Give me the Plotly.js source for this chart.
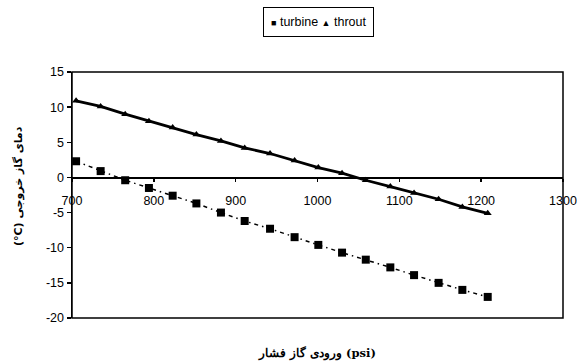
<!DOCTYPE html>
<html>
<head>
<meta charset="utf-8">
<script src="https://cdn.plot.ly/plotly-3.0.1.min.js"></script>
<style>html,body{margin:0;padding:0;background:#fff;}#chart{width:577px;height:364px;}</style>
</head>
<body>
<div id="chart"></div>
<script>
// ---- data ----
const pressure = [705, 735, 765, 794, 823, 852, 882, 911, 942, 972, 1001, 1030, 1059, 1089, 1118, 1148, 1177, 1208];
const turbine = [2.3, 0.9, -0.4, -1.5, -2.6, -3.7, -5.0, -6.2, -7.3, -8.5, -9.6, -10.7, -11.7, -12.8, -13.9, -15.0, -16.0, -17.0];
const throut = [10.9, 10.1, 9.0, 8.0, 7.1, 6.1, 5.2, 4.2, 3.4, 2.4, 1.4, 0.6, -0.4, -1.3, -2.2, -3.1, -4.2, -5.1];
const seriesNames = ['turbine', 'throut'];
const xTickVals = [700, 800, 900, 1000, 1100, 1200, 1300];
const yTickVals = [15, 10, 5, 0, -5, -10, -15, -20];
const yTickText = ['15', '10', '5', '0', '-5', '-10', '-15', '-20'];
const xTitle = 'ورودی گاز فشار (psi)';
const yTitle = '(°C) دمای گاز خروجی';

const yMin = -20, yMax = 15;

const traces = [
  {
    x: pressure, y: turbine, name: seriesNames[0], type: 'scatter', mode: 'lines+markers',
    line: {color: '#000', width: 1.5, dash: '4px,4px,1.5px,4px'},
    marker: {symbol: 'square', size: 8, color: '#000'},
    showlegend: false, cliponaxis: false
  },
  {
    x: pressure, y: throut, name: seriesNames[1], type: 'scatter', mode: 'lines+markers',
    line: {color: '#000', width: 2.8},
    marker: {symbol: 'triangle-up', size: 7, color: '#000'},
    showlegend: false, cliponaxis: false
  }
];

const legendText = '<span style="font-size:9px">■</span> ' + seriesNames[0] +
  ' <span style="font-size:9px">▲</span> ' + seriesNames[1];

const layout = {
  width: 577, height: 364,
  margin: {l: 72, r: 14, t: 72, b: 46},
  paper_bgcolor: '#fff', plot_bgcolor: '#fff',
  font: {family: 'Liberation Sans, Arial, sans-serif', size: 12, color: '#000'},
  showlegend: false,
  xaxis: {
    range: [700, 1300], tickvals: xTickVals, ticktext: xTickVals.map(String),
    anchor: 'free', position: (0 - yMin) / (yMax - yMin),
    showline: true, linecolor: '#000', linewidth: 1.5,
    ticks: 'outside', ticklen: 3, tickcolor: '#000', tickwidth: 1.5,
    ticklabelstandoff: 8,
    showgrid: false, zeroline: false, automargin: false,
    tickfont: {size: 12.5, color: '#000'},
    title: {text: xTitle, standoff: 142, font: {family: 'DejaVu Serif, Liberation Serif, serif', size: 11.5, weight: 'bold', color: '#000'}}
  },
  yaxis: {
    range: [yMin, yMax], tickvals: yTickVals, ticktext: yTickText,
    showline: true, linecolor: '#000', linewidth: 1.5,
    ticks: 'outside', ticklen: 4, tickcolor: '#000', tickwidth: 1.5,
    showgrid: false, zeroline: false, automargin: false,
    tickfont: {size: 12.5, color: '#000'}
  },
  shapes: [
    {type: 'rect', xref: 'paper', yref: 'paper', x0: 0, x1: 1, y0: 0, y1: 1,
     line: {color: '#000', width: 1.5}, fillcolor: 'rgba(0,0,0,0)', layer: 'above'}
  ],
  annotations: [
    {text: legendText, xref: 'paper', yref: 'paper', x: (318 - 72) / 491, y: (364 - 46 - 22) / 246,
     xanchor: 'center', yanchor: 'middle', showarrow: false,
     bordercolor: '#000', borderwidth: 1, borderpad: 7, bgcolor: '#fff',
     font: {size: 12.5, color: '#000'}},
    {text: yTitle, xref: 'paper', yref: 'paper', x: (18 - 72) / 491, y: (364 - 46 - 186) / 246,
     xanchor: 'center', yanchor: 'middle', textangle: -90, showarrow: false,
     font: {family: 'DejaVu Sans, Liberation Sans, sans-serif', size: 11, weight: 'bold', color: '#000'}}
  ]
};

Plotly.newPlot('chart', traces, layout, {displayModeBar: false, staticPlot: true});
</script>
</body>
</html>
